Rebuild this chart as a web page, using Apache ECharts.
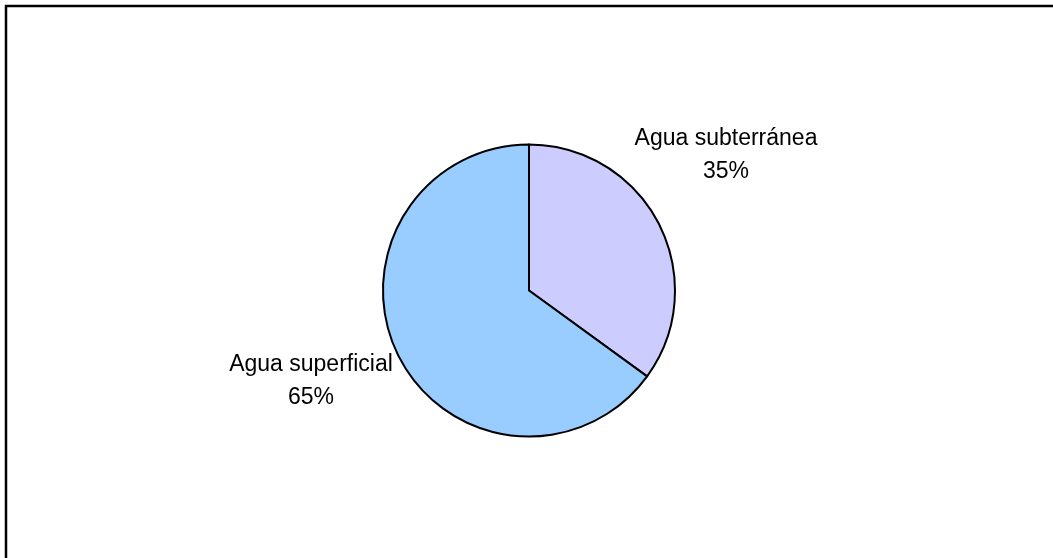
<!DOCTYPE html>
<html>
<head>
<meta charset="utf-8">
<style>
  html, body { margin: 0; padding: 0; background: #fff; }
  #chart { width: 1053px; height: 558px; }
</style>
<script src="https://cdn.jsdelivr.net/npm/echarts@6/dist/echarts.min.js"></script>
</head>
<body>
<div id="chart"></div>
<script>
// Water sources by share (%)
const categories = ['Agua subterránea', 'Agua superficial'];
const values = [35, 65];
const colors = ['#CCCCFF', '#99CCFF'];
// Label anchor points (label centres) for each slice
const labelSpots = [[726, 155], [311, 381]];

const chart = echarts.init(document.getElementById('chart'), null, { renderer: 'canvas' });

chart.setOption({
  backgroundColor: '#ffffff',
  animation: false,
  graphic: [{
    type: 'rect',
    shape: { x: 6, y: 6, width: 1100, height: 600 },
    style: { fill: 'none', stroke: '#000', lineWidth: 2.5 },
    silent: true
  }],
  series: [{
    type: 'pie',
    center: [529, 290.5],
    radius: 146,
    startAngle: 90,
    clockwise: true,
    avoidLabelOverlap: false,
    itemStyle: { borderColor: '#000', borderWidth: 2 },
    label: {
      show: true,
      position: 'outside',
      formatter: p => p.name + '\n' + p.value + '%',
      fontFamily: '"Liberation Sans", Arial, sans-serif',
      fontSize: 23,
      lineHeight: 33,
      color: '#000',
      align: 'center'
    },
    labelLine: { show: false },
    labelLayout: p => ({
      x: labelSpots[p.dataIndex][0],
      y: labelSpots[p.dataIndex][1],
      align: 'center',
      verticalAlign: 'middle'
    }),
    emphasis: { disabled: true },
    data: categories.map((c, i) => ({
      name: c,
      value: values[i],
      itemStyle: { color: colors[i] }
    }))
  }]
});
</script>
</body>
</html>
